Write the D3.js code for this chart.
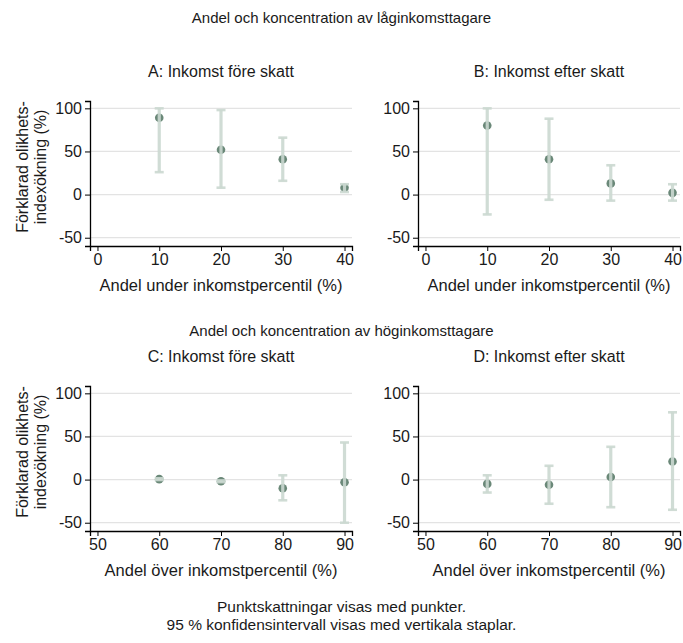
<!DOCTYPE html>
<html><head><meta charset="utf-8">
<script src="https://cdn.jsdelivr.net/npm/d3@7"></script>
<style>
body{margin:0;background:#fff;}
text{font-family:"Liberation Sans",Arial,sans-serif;fill:#1a1a1a;}
</style></head>
<body><svg id="c" width="683" height="643"></svg>
<script>
// ---- data ----
const xLow = [10, 20, 30, 40];
const xHigh = [60, 70, 80, 90];
const A_est = [89, 52, 41, 8],  A_lo = [26, 8, 16, 3],    A_hi = [100, 98, 66, 12];
const B_est = [80, 41, 13, 2],  B_lo = [-23, -6, -7, -7], B_hi = [100, 88, 34, 12];
const C_est = [0.5, -2, -10, -3], C_lo = [-0.5, -3, -24, -50], C_hi = [1.5, -1, 5, 43];
const D_est = [-5, -6, 3, 21],  D_lo = [-15, -28, -32, -35], D_hi = [5, 16, 38, 78];
const yTicks = [-50, 0, 50, 100];
const xTicksLow = [0, 10, 20, 30, 40];
const xTicksHigh = [50, 60, 70, 80, 90];
const titles = ["Andel och koncentration av låginkomsttagare", "Andel och koncentration av höginkomsttagare"];
const panelTitles = ["A: Inkomst före skatt", "B: Inkomst efter skatt", "C: Inkomst före skatt", "D: Inkomst efter skatt"];
const xLabels = ["Andel under inkomstpercentil (%)", "Andel över inkomstpercentil (%)"];
const yLabel = ["Förklarad olikhets-", "indexökning (%)"];
const notes = ["Punktskattningar visas med punkter.", "95 % konfidensintervall visas med vertikala staplar."];

const svg = d3.select("#c");
const FS = 16, FSX = 16.5, FST = 15, FSN = 15.5;
const barCol = "#cbd8d0", ptCol = "#6a8878", gridCol = "#e3e3e3";

const panels = [
  {x0: 90,  y0: 101, xs: xLow,  est: A_est, lo: A_lo, hi: A_hi, ticks: xTicksLow,  dom: [-1.21, 41.21], t: panelTitles[0], xl: xLabels[0], yl: true},
  {x0: 418, y0: 101, xs: xLow,  est: B_est, lo: B_lo, hi: B_hi, ticks: xTicksLow,  dom: [-1.21, 41.21], t: panelTitles[1], xl: xLabels[0], yl: false},
  {x0: 90,  y0: 386, xs: xHigh, est: C_est, lo: C_lo, hi: C_hi, ticks: xTicksHigh, dom: [48.79, 91.21], t: panelTitles[2], xl: xLabels[1], yl: true},
  {x0: 418, y0: 386, xs: xHigh, est: D_est, lo: D_lo, hi: D_hi, ticks: xTicksHigh, dom: [48.79, 91.21], t: panelTitles[3], xl: xLabels[1], yl: false}
];
const PW = 262, PH = 145;
const fmt = d => String(d);

panels.forEach(p => {
  const x = d3.scaleLinear().domain(p.dom).range([p.x0, p.x0 + PW]);
  const y = d3.scaleLinear().domain([-59.6, 108.5]).range([p.y0 + PH, p.y0]);
  const g = svg.append("g");
  // grid
  g.selectAll("line.grid").data(yTicks).join("line")
    .attr("x1", p.x0).attr("x2", p.x0 + PW)
    .attr("y1", d => y(d)).attr("y2", d => y(d))
    .attr("stroke", gridCol).attr("stroke-width", 1.2);
  // y axis
  const ya = g.append("g").attr("transform", `translate(${p.x0},0)`)
    .call(d3.axisLeft(y).tickValues(yTicks).tickFormat(fmt).tickSize(5).tickPadding(3));
  ya.select(".domain").attr("stroke", "#000").attr("stroke-width", 1.3);
  ya.selectAll(".tick line").attr("stroke", "#000");
  ya.selectAll("text").attr("font-size", FS).attr("fill", "#1a1a1a").attr("font-family", "Liberation Sans, Arial, sans-serif");
  // x axis
  const xa = g.append("g").attr("transform", `translate(0,${p.y0 + PH})`)
    .call(d3.axisBottom(x).tickValues(p.ticks).tickFormat(fmt).tickSize(5).tickPadding(3));
  xa.select(".domain").attr("stroke", "#000").attr("stroke-width", 1.3);
  xa.selectAll(".tick line").attr("stroke", "#000");
  xa.selectAll("text").attr("font-size", FS).attr("fill", "#1a1a1a").attr("font-family", "Liberation Sans, Arial, sans-serif");
  // points
  const idx = d3.range(p.xs.length);
  g.selectAll("circle.pt").data(idx).join("circle")
    .attr("cx", i => x(p.xs[i])).attr("cy", i => y(p.est[i])).attr("r", 4.3)
    .attr("fill", ptCol);
  // CI bars (drawn on top)
  g.selectAll("line.bar").data(idx).join("line")
    .attr("x1", i => x(p.xs[i])).attr("x2", i => x(p.xs[i]))
    .attr("y1", i => y(p.lo[i])).attr("y2", i => y(p.hi[i]))
    .attr("stroke", barCol).attr("stroke-width", 3.2).attr("stroke-opacity", 0.9);
  ["lo", "hi"].forEach(k => {
    g.selectAll("line.cap" + k).data(idx).join("line")
      .attr("x1", i => x(p.xs[i]) - 4.5).attr("x2", i => x(p.xs[i]) + 4.5)
      .attr("y1", i => y(p[k][i])).attr("y2", i => y(p[k][i]))
      .attr("stroke", barCol).attr("stroke-width", 2.6).attr("stroke-opacity", 0.9);
  });
  // panel title
  g.append("text").attr("x", p.x0 + PW / 2).attr("y", p.y0 - 24).attr("text-anchor", "middle")
    .attr("font-size", FS).text(p.t);
  // x label
  g.append("text").attr("x", p.x0 + PW / 2).attr("y", p.y0 + PH + 45).attr("text-anchor", "middle")
    .attr("font-size", FSX).text(p.xl);
  // y label
  if (p.yl) {
    const cy = p.y0 + 66;
    yLabel.forEach((s, j) => {
      g.append("text").attr("transform", `translate(${28 + j * 18},${cy}) rotate(-90)`)
        .attr("text-anchor", "middle").attr("font-size", FS).text(s);
    });
  }
});

svg.append("text").attr("x", 341.5).attr("y", 23).attr("text-anchor", "middle").attr("font-size", FST).text(titles[0]);
svg.append("text").attr("x", 341.5).attr("y", 336).attr("text-anchor", "middle").attr("font-size", FST).text(titles[1]);
notes.forEach((s, j) => {
  svg.append("text").attr("x", 341.5).attr("y", 612 + j * 18).attr("text-anchor", "middle").attr("font-size", FSN).text(s);
});
</script></body></html>
